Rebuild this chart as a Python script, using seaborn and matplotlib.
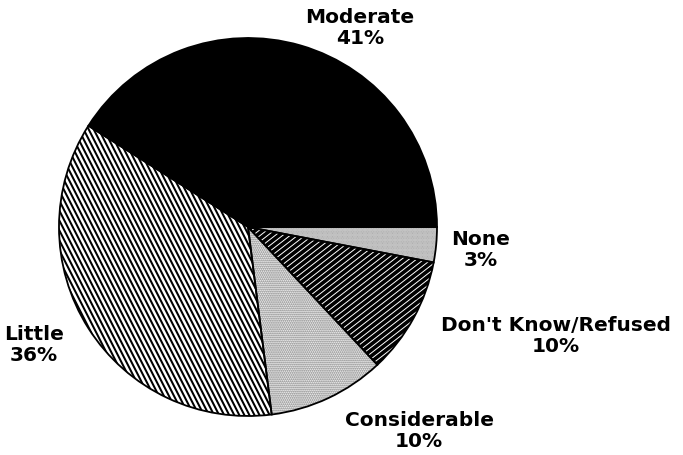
import numpy as np
import matplotlib
matplotlib.use("Agg")
import matplotlib.pyplot as plt
from matplotlib.collections import LineCollection
import seaborn as sns

# Survey shares, listed counter-clockwise from the 3 o'clock position
categories = ["Moderate", "Little", "Considerable", "Don't Know/Refused", "None"]
shares = [41, 36, 10, 10, 3]

sns.set_theme(style="white")
plt.rcParams["font.family"] = ["DejaVu Sans"]
plt.rcParams["hatch.linewidth"] = 0.9

# Monochrome fills: solid black, white/black bases for striping, stipple
fills = ["black", "white", "#f2f2f2", "black", "#e6e6e6"]
dot_hatches = [None, None, "........", None, ".........."]
dot_colors = ["black", "black", "#7a7a7a", "black", "#9a9a9a"]
# Stripe styling per slice: (angle in degrees, spacing px, colour, width pt)
stripes = [None, (-63, 4.5, "black", 1.45), None, (38, 4.6, "white", 0.7), None]

W, H = 683, 455
fig = plt.figure(figsize=(W / 100, H / 100), dpi=100)
ax = fig.add_axes([0, 0, 1, 1])

center = (248, H - 227)
radius = 189

wedges, _ = ax.pie(shares, startangle=0, counterclock=True, center=center,
                   radius=radius, colors=fills,
                   wedgeprops=dict(linewidth=0))


def add_stripes(wedge, angle, spacing, color, width):
    """Fill a wedge with parallel lines clipped to its outline."""
    verts = wedge.get_path().vertices
    cx, cy = verts.mean(axis=0)
    reach = np.hypot(*(verts.max(axis=0) - verts.min(axis=0)))
    a = np.deg2rad(angle)
    d = np.array([np.cos(a), np.sin(a)])
    n = np.array([-np.sin(a), np.cos(a)])
    offsets = np.arange(-reach, reach + spacing, spacing)
    segs = [[(cx + n[0] * o - d[0] * reach, cy + n[1] * o - d[1] * reach),
             (cx + n[0] * o + d[0] * reach, cy + n[1] * o + d[1] * reach)]
            for o in offsets]
    lc = LineCollection(segs, colors=color, linewidths=width, zorder=wedge.get_zorder())
    ax.add_collection(lc)
    lc.set_clip_path(wedge)


for w, h, hc, st in zip(wedges, dot_hatches, dot_colors, stripes):
    w.set_edgecolor(hc)
    w.set_linewidth(0)
    if h:
        w.set_hatch(h)
    if st:
        add_stripes(w, *st)

# Black outlines on top of the fills
ax.pie(shares, startangle=0, counterclock=True, center=center, radius=radius,
       wedgeprops=dict(fill=False, edgecolor="black", linewidth=1.3, zorder=5))

# Label block centres (x, y measured from the top)
label_pos = {
    "Moderate": (360, 28),
    "Little": (34, 345),
    "Considerable": (419, 431),
    "Don't Know/Refused": (556, 336),
    "None": (481, 250),
}
for cat, share in zip(categories, shares):
    x, y = label_pos[cat]
    ax.text(x, H - y, f"{cat}\n{share}%", ha="center", va="center",
            fontsize=14.5, fontweight="bold", color="black", linespacing=1.1)

ax.set_xlim(0, W)
ax.set_ylim(0, H)
ax.set_aspect("equal")
ax.axis("off")
fig.savefig("out.png", dpi=100, facecolor="white")
